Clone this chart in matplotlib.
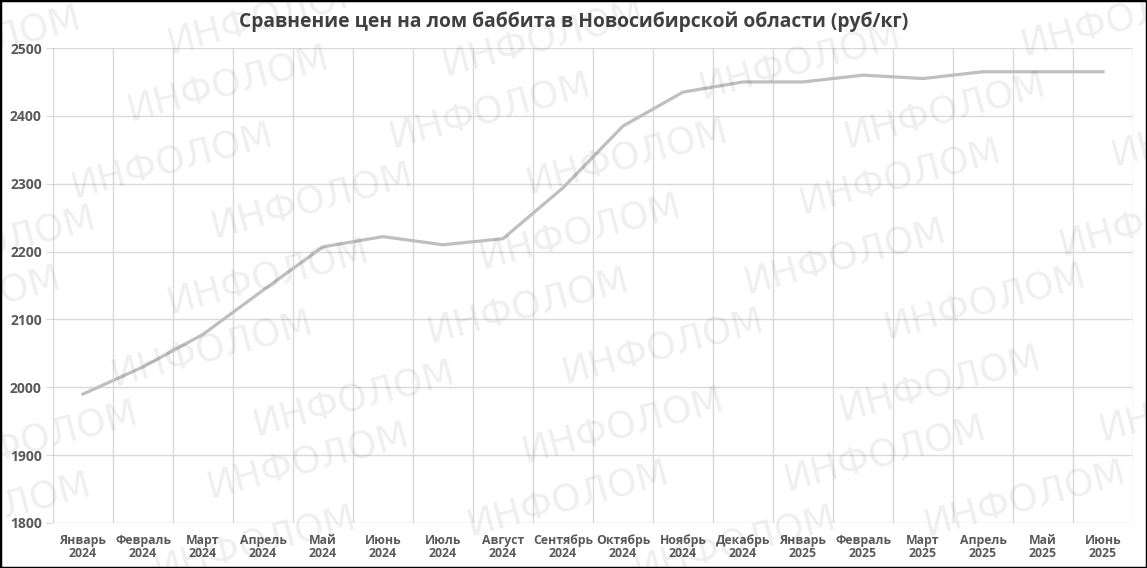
import matplotlib.pyplot as plt
from matplotlib.patches import Rectangle

months = ['Январь\n2024', 'Февраль\n2024', 'Март\n2024', 'Апрель\n2024', 'Май\n2024',
          'Июнь\n2024', 'Июль\n2024', 'Август\n2024', 'Сентябрь\n2024', 'Октябрь\n2024',
          'Ноябрь\n2024', 'Декабрь\n2024', 'Январь\n2025', 'Февраль\n2025', 'Март\n2025',
          'Апрель\n2025', 'Май\n2025', 'Июнь\n2025']
prices = [1990, 2030, 2078, 2143, 2207, 2222, 2210, 2219, 2294, 2385,
          2435, 2450, 2450, 2460, 2455, 2465, 2465, 2465]
yticks = [1800, 1900, 2000, 2100, 2200, 2300, 2400, 2500]

title = 'Сравнение цен на лом баббита в Новосибирской области (руб/кг)'
watermark = 'ИНФОЛОМ'

# watermark centres in pixels (from top-left of the picture)
wm_pos = [(268, 18), (228, 85), (172, 162), (312, 202), (268, 278), (212, 350),
          (354, 400), (308, 462), (255, 545), (37, 440), (-10, 512), (-5, 245),
          (-40, 305), (-20, 45),
          (543, 40), (490, 112), (627, 158), (580, 233), (528, 307), (663, 348),
          (623, 427), (568, 500), (735, 545),
          (800, 63), (945, 112), (900, 178), (845, 258), (985, 303), (940, 385),
          (885, 455), (1025, 500), (1122, 20), (1212, 130), (1160, 220), (1200, 405)]

W, H = 1147, 568
plt.rcParams['font.family'] = ['Open Sans', 'DejaVu Sans']

fig = plt.figure(figsize=(W / 100, H / 100), dpi=100)
ax = fig.add_axes([53 / W, 1 - 523 / H, (1133 - 53) / W, (523 - 48) / H])

x = list(range(len(months)))
ax.plot(x, prices, color='#bfbfbf', linewidth=2.3, zorder=3, solid_joinstyle='round')

ax.set_xlim(-0.5, len(months) - 0.5)
ax.set_ylim(1800, 2500)
ax.set_yticks(yticks)
ax.set_xticks(x)
ax.set_xticklabels(months, fontsize=8.8, fontweight='bold', color='#595959', linespacing=1.0)
ax.tick_params(axis='x', length=0, pad=8)
ax.tick_params(axis='y', length=5, color='#d9d9d9', labelsize=10, labelcolor='#595959', pad=3)
for lab in ax.get_yticklabels():
    lab.set_fontweight('bold')

for v in yticks:
    ax.axhline(v, color='#d9d9d9', linewidth=1, zorder=1)
for i in range(len(months) + 1):
    ax.axvline(i - 0.5, color='#d9d9d9', linewidth=1, zorder=1)
for s in ax.spines.values():
    s.set_visible(False)

fig.text(0.5, 1 - 22 / H, title, ha='center', va='center', fontsize=13.9,
         fontweight='bold', color='#404040')

for px, py in wm_pos:
    fig.text(px / W, 1 - py / H, watermark, ha='center', va='center', fontsize=27,
             family='DejaVu Sans', rotation=15, color='black', alpha=0.065, zorder=5)

fig.patches.append(Rectangle((0, 0), 1, 1, transform=fig.transFigure, fill=False,
                             edgecolor='black', linewidth=2.5))

fig.savefig('out.png', dpi=100)
